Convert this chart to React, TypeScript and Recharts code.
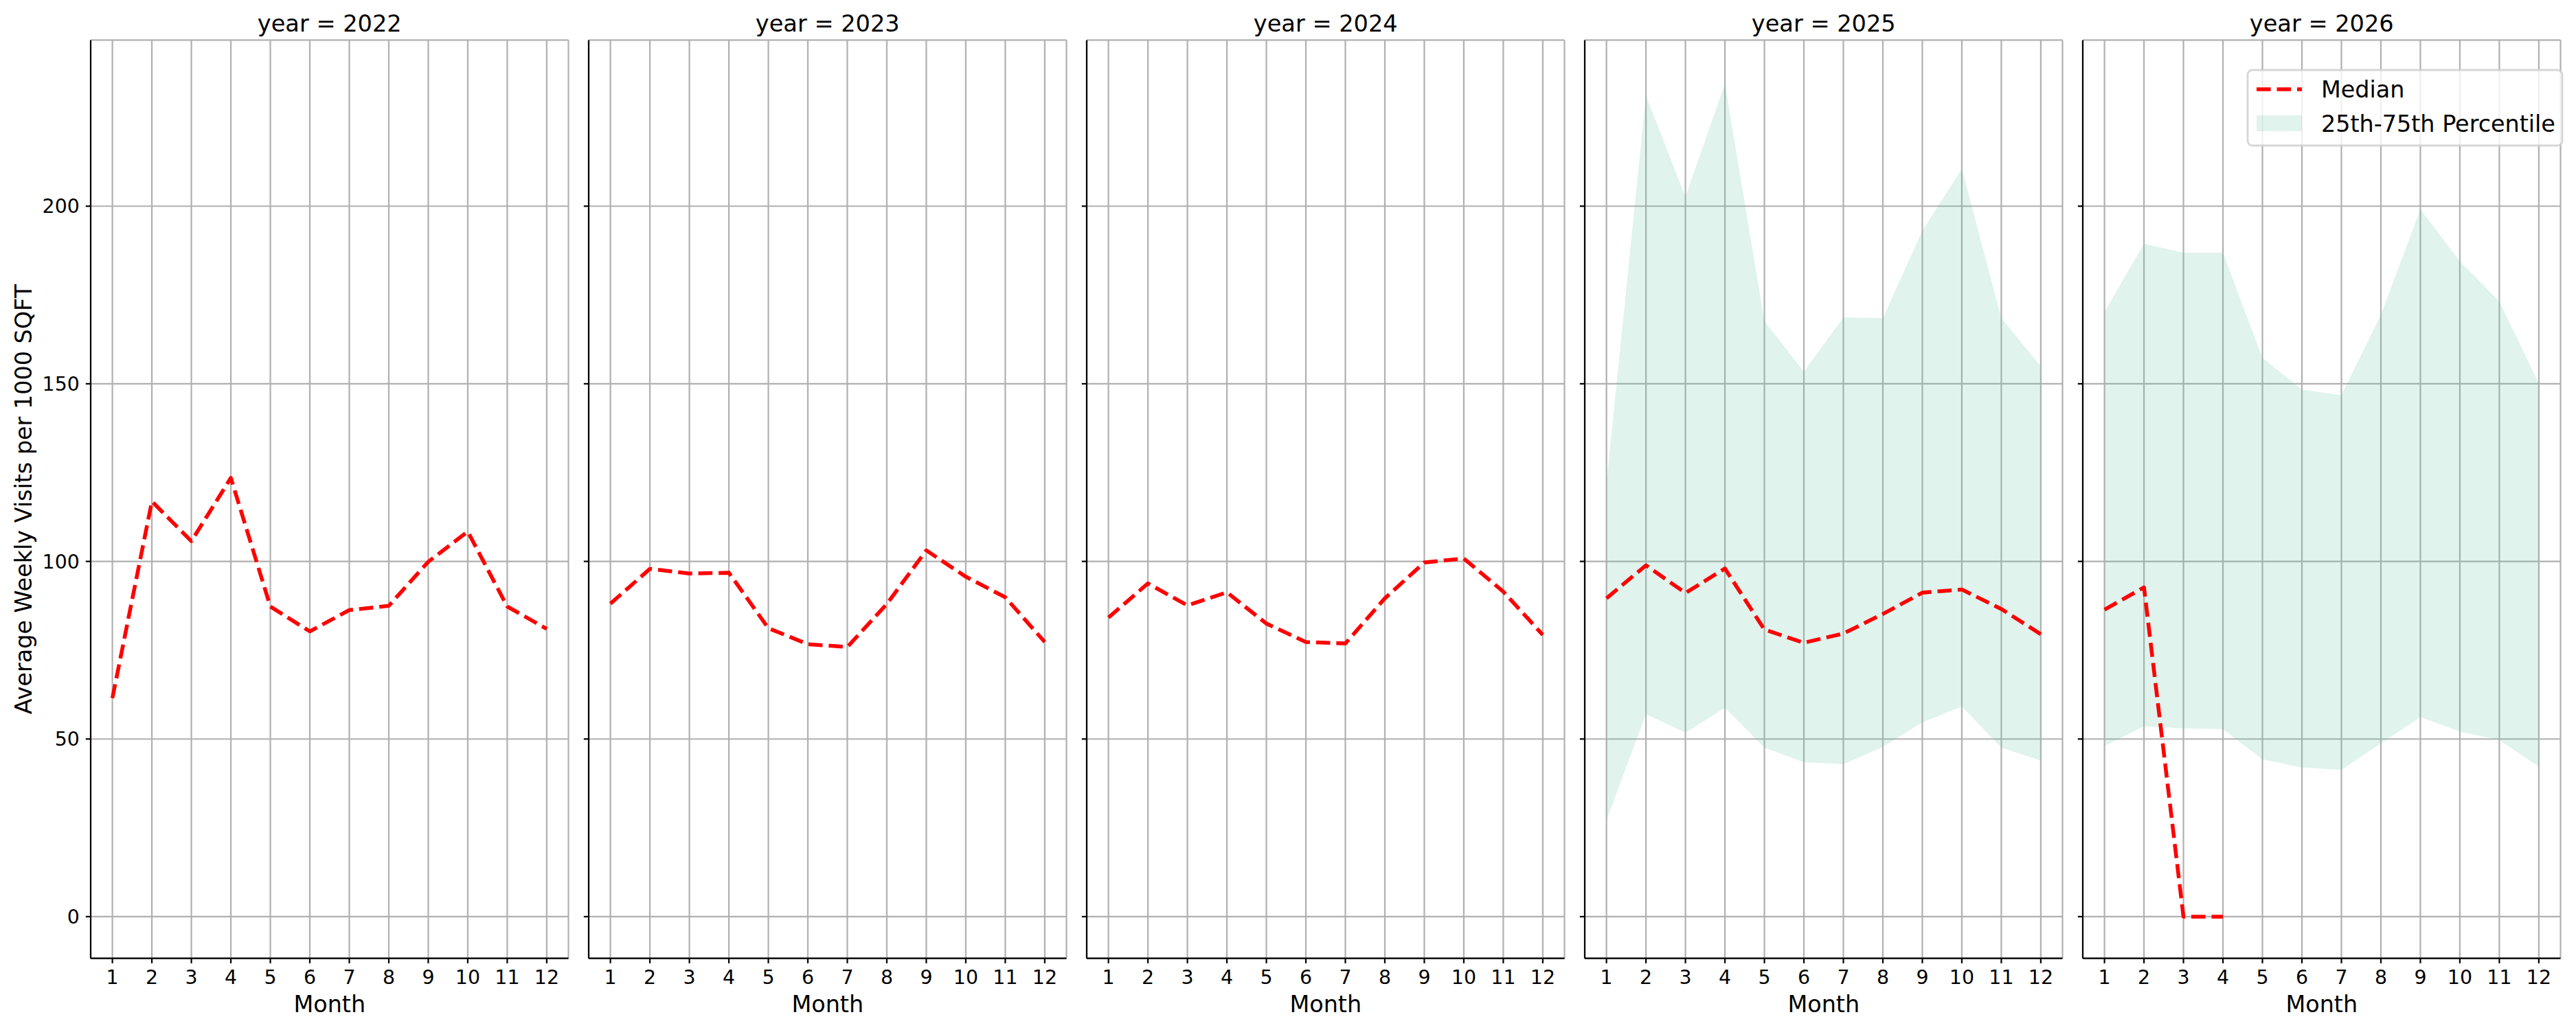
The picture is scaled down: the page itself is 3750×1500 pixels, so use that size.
import React from 'react';
import { ComposedChart, Line, Area, XAxis, YAxis, CartesianGrid } from 'recharts';

// ---------- data ----------
const months = [1, 2, 3, 4, 5, 6, 7, 8, 9, 10, 11, 12];
const years = [2022, 2023, 2024, 2025, 2026];

const median2022 = [61.5, 116.9, 105.7, 123.5, 87.3, 80.3, 86.3, 87.5, 99.9, 108.4, 87.3, 81.0];
const median2023 = [88.1, 97.9, 96.6, 96.8, 81.2, 76.7, 75.9, 88.0, 103.1, 95.7, 89.9, 77.3];
const median2024 = [84.2, 93.8, 87.6, 91.3, 82.5, 77.3, 76.9, 89.6, 99.7, 100.8, 91.5, 79.3];
const median2025 = [89.6, 98.9, 91.1, 98.0, 80.8, 77.1, 79.7, 85.2, 91.2, 92.1, 86.6, 79.5];
const median2026: (number | null)[] = [86.4, 92.7, 0, 0, null, null, null, null, null, null, null, null];

const p25_2025 = [27.1, 57.0, 51.8, 58.8, 47.6, 43.5, 42.9, 47.8, 54.7, 59.2, 47.6, 43.9];
const p75_2025 = [122.0, 231.1, 202.6, 234.5, 167.6, 153.4, 168.7, 168.5, 193.1, 210.5, 168.5, 154.9];
const p25_2026 = [48.0, 53.6, 53.0, 52.8, 44.3, 42.0, 41.3, 48.8, 56.2, 52.1, 49.7, 42.2];
const p75_2026 = [170.2, 189.4, 186.9, 186.9, 157.3, 148.4, 146.8, 169.4, 199.1, 184.5, 173.2, 150.1];

const yTicks = [0, 50, 100, 150, 200];
const xTicks = months;

const medians = [median2022, median2023, median2024, median2025, median2026];
const p25s: (number[] | null)[] = [null, null, null, p25_2025, p25_2026];
const p75s: (number[] | null)[] = [null, null, null, p75_2025, p75_2026];

// ---------- layout / style ----------
const FONT = "'DejaVu Sans', sans-serif";
const W = 3750;
const H = 1500;
const PLOT_TOP = 58.4;
const PLOT_BOTTOM = 1395.7;
const PLOT_W = 695.5;
const FIRST_LEFT = 132;
const STEP = 725;
const Y_AXIS_W = 132;
const RIGHT_PAD = 12;
const LINE_W = 5.56;
const DASH = '20.6 8.9';
const RED = '#ff0000';
const BAND = '#66c2a5';
const GRID = '#b0b0b0';
const TICK_FS = 28.4;
const LABEL_FS = 33.4;
const TICK_LEN = 7.2;

function buildRows(i: number) {
  return months.map((m, k) => {
    const row: any = { month: m, median: medians[i][k] };
    const lo = p25s[i];
    const hi = p75s[i];
    if (lo && hi) row.band = [lo[k], hi[k]];
    return row;
  });
}

const EmptyTick = () => <g />;

function Panel({ i }: { i: number }) {
  const rows = buildRows(i);
  const hasBand = p25s[i] !== null;
  const left = FIRST_LEFT + i * STEP - Y_AXIS_W;
  return (
    <div style={{ position: 'absolute', left, top: 0 }}>
      <ComposedChart
        width={Y_AXIS_W + PLOT_W + RIGHT_PAD}
        height={H}
        data={rows}
        margin={{ top: PLOT_TOP, right: RIGHT_PAD, bottom: 0, left: 0 }}
      >
        <CartesianGrid stroke={GRID} strokeWidth={2.2} />
        <XAxis
          type="number"
          dataKey="month"
          domain={[0.45, 12.55]}
          ticks={xTicks}
          interval={0}
          allowDataOverflow
          height={H - PLOT_BOTTOM}
          tickSize={TICK_LEN}
          tickMargin={10.2}
          axisLine={{ stroke: '#000', strokeWidth: 2.2 }}
          tickLine={{ stroke: '#000', strokeWidth: 2.2 }}
          tick={{ fontSize: TICK_FS, fill: '#000', fontFamily: FONT }}
        />
        <YAxis
          type="number"
          domain={[-11.75, 246.75]}
          ticks={yTicks}
          interval={0}
          allowDataOverflow
          width={Y_AXIS_W}
          tickSize={TICK_LEN}
          tickMargin={9}
          axisLine={{ stroke: '#000', strokeWidth: 2.2 }}
          tickLine={{ stroke: '#000', strokeWidth: 2.2 }}
          tick={i === 0 ? { fontSize: TICK_FS, fill: '#000', fontFamily: FONT } : EmptyTick}
        />
        {hasBand && (
          <Area
            type="linear"
            dataKey="band"
            stroke="none"
            fill={BAND}
            fillOpacity={0.2}
            isAnimationActive={false}
            dot={false}
            activeDot={false}
          />
        )}
        <Line
          type="linear"
          dataKey="median"
          stroke={RED}
          strokeWidth={LINE_W}
          strokeDasharray={DASH}
          strokeLinecap="butt"
          strokeLinejoin="round"
          dot={false}
          activeDot={false}
          connectNulls={false}
          isAnimationActive={false}
        />
      </ComposedChart>
    </div>
  );
}

function Overlay() {
  const lgX = 3272;
  const lgY = 102;
  const lgW = 458;
  const lgH = 110;
  return (
    <svg
      width={W}
      height={H}
      style={{ position: 'absolute', left: 0, top: 0, pointerEvents: 'none' }}
    >
      {years.map((y, i) => {
        const cx = FIRST_LEFT + i * STEP + PLOT_W / 2;
        return (
          <g key={y}>
            <text x={cx} y={46} textAnchor="middle" fontSize={33.6} fontFamily={FONT} fill="#000">
              {`year = ${y}`}
            </text>
            <text x={cx} y={1474} textAnchor="middle" fontSize={LABEL_FS} fontFamily={FONT} fill="#000">
              Month
            </text>
          </g>
        );
      })}
      <text
        x={0}
        y={0}
        transform={`translate(46, ${(PLOT_TOP + PLOT_BOTTOM) / 2}) rotate(-90)`}
        textAnchor="middle"
        fontSize={LABEL_FS}
        fontFamily={FONT}
        fill="#000"
      >
        Average Weekly Visits per 1000 SQFT
      </text>
      <g>
        <rect
          x={lgX}
          y={lgY}
          width={lgW}
          height={lgH}
          rx={7}
          ry={7}
          fill="#ffffff"
          fillOpacity={0.8}
          stroke="#cccccc"
          strokeOpacity={0.8}
          strokeWidth={2.8}
        />
        <line
          x1={3285}
          x2={3351}
          y1={130}
          y2={130}
          stroke={RED}
          strokeWidth={LINE_W}
          strokeDasharray={DASH}
        />
        <text x={3379} y={130} dominantBaseline="central" fontSize={LABEL_FS} fontFamily={FONT} fill="#000">
          Median
        </text>
        <rect x={3285} y={168} width={66} height={23} fill={BAND} fillOpacity={0.2} />
        <text x={3379} y={180} dominantBaseline="central" fontSize={LABEL_FS} fontFamily={FONT} fill="#000">
          25th-75th Percentile
        </text>
      </g>
    </svg>
  );
}

export default function App() {
  return (
    <div
      style={{
        position: 'absolute',
        left: 0,
        top: 0,
        width: W,
        height: H,
        background: '#ffffff',
        overflow: 'hidden',
      }}
    >
      {years.map((y, i) => (
        <Panel key={y} i={i} />
      ))}
      <Overlay />
    </div>
  );
}
